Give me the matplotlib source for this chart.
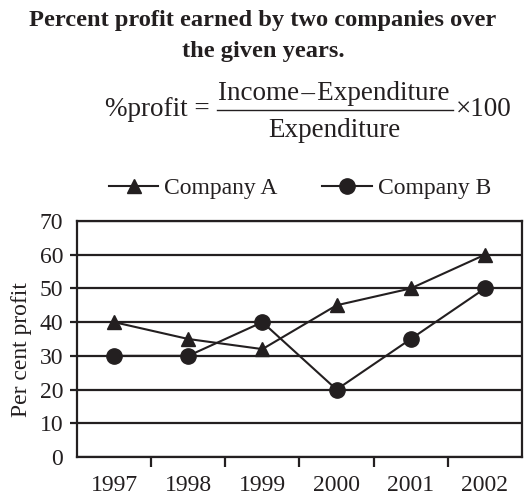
import matplotlib
matplotlib.use("Agg")
import matplotlib.pyplot as plt
from matplotlib.lines import Line2D
from matplotlib import font_manager as fm
import matplotlib.patheffects as pe

years = ["1997", "1998", "1999", "2000", "2001", "2002"]
company_a = [40, 35, 32, 45, 50, 60]
company_b = [30, 30, 40, 20, 35, 50]
y_ticks = [0, 10, 20, 30, 40, 50, 60, 70]

INK = "#231f20"
SERIF = ["Liberation Serif", "DejaVu Serif"]
plt.rcParams["font.family"] = SERIF

fig = plt.figure(figsize=(5.26, 4.97), dpi=100)
W, H = 526, 497


def fx(px):
    return px / W


def fy(py):
    return 1 - py / H


# Bold serif title: pick the bold file of Liberation Serif directly,
# otherwise thicken the regular face with a stroke
serif_faces = [f for f in fm.fontManager.ttflist
               if f.name == "Liberation Serif" and f.style == "normal"]
bold_faces = [f for f in serif_faces
              if f.weight in (700, "bold") or "bold" in f.fname.lower()]
title_kw = dict(ha="center", va="baseline", color=INK)
if bold_faces:
    title_kw["fontproperties"] = fm.FontProperties(fname=bold_faces[0].fname,
                                                   size=17.6)
else:
    title_kw["fontproperties"] = fm.FontProperties(family="Liberation Serif",
                                                   size=17.6)
    title_kw["path_effects"] = [pe.withStroke(linewidth=0.9, foreground=INK)]

fig.text(0.5, fy(26), "Percent profit earned by two companies over", **title_kw)
fig.text(0.5, fy(57), "the given years.", **title_kw)

# Formula for percent profit
fs_f = 19.5
fig.text(fx(210), fy(116), "%profit =", ha="right", va="baseline",
         fontsize=fs_f, color=INK)
fig.text(fx(334), fy(100), "Income\u200a\u2013\u200aExpenditure", ha="center",
         va="baseline", fontsize=fs_f, color=INK)
fig.text(fx(334), fy(137), "Expenditure", ha="center", va="baseline",
         fontsize=fs_f, color=INK)
fig.add_artist(Line2D([fx(217), fx(453)], [fy(110), fy(110)],
                      color=INK, lw=1.0, transform=fig.transFigure))
fig.text(fx(456), fy(116), "\u00d7100", ha="left", va="baseline",
         fontsize=fs_f, color=INK)

# Chart
ax = fig.add_axes([fx(77), fy(457), fx(522) - fx(77), fy(221) - fy(457)])
x = list(range(len(years)))
ax.plot(x, company_a, color=INK, lw=1.5, marker="^", markersize=10,
        label="Company A")
ax.plot(x, company_b, color=INK, lw=1.5, marker="o", markersize=11,
        label="Company B")

ax.set_xlim(-0.5, len(years) - 0.5)
ax.set_ylim(0, 70)
ax.set_yticks(y_ticks)
ax.set_yticklabels([str(v) for v in y_ticks])
ax.set_xticks(x)
ax.set_xticklabels(years)
ax.set_xticks([i + 0.5 for i in range(len(years) - 1)], minor=True)

ax.yaxis.grid(True, color=INK, lw=1.6)
ax.set_axisbelow(True)
for s in ax.spines.values():
    s.set_color(INK)
    s.set_linewidth(1.6)

ax.tick_params(axis="y", direction="out", length=5, width=1.6, pad=5,
               labelsize=17, colors=INK)
ax.tick_params(axis="x", which="major", length=0, pad=13, labelsize=17,
               colors=INK)
ax.tick_params(axis="x", which="minor", direction="out", length=7,
               width=1.6, colors=INK)
yt = ax.yaxis.get_major_ticks()
yt[0].tick1line.set_visible(False)
yt[-1].tick1line.set_visible(False)

ax.set_ylabel("Per cent profit", fontsize=17, color=INK)
ax.yaxis.set_label_coords(-0.101, 0.457)

leg = ax.legend(loc="center", bbox_to_anchor=(fx(300), fy(188)),
                bbox_transform=fig.transFigure, ncol=2, frameon=False,
                fontsize=17, handlelength=2.1, handletextpad=0.25,
                columnspacing=1.9, borderpad=0)
for t in leg.get_texts():
    t.set_color(INK)

fig.savefig("out.png", dpi=100)
